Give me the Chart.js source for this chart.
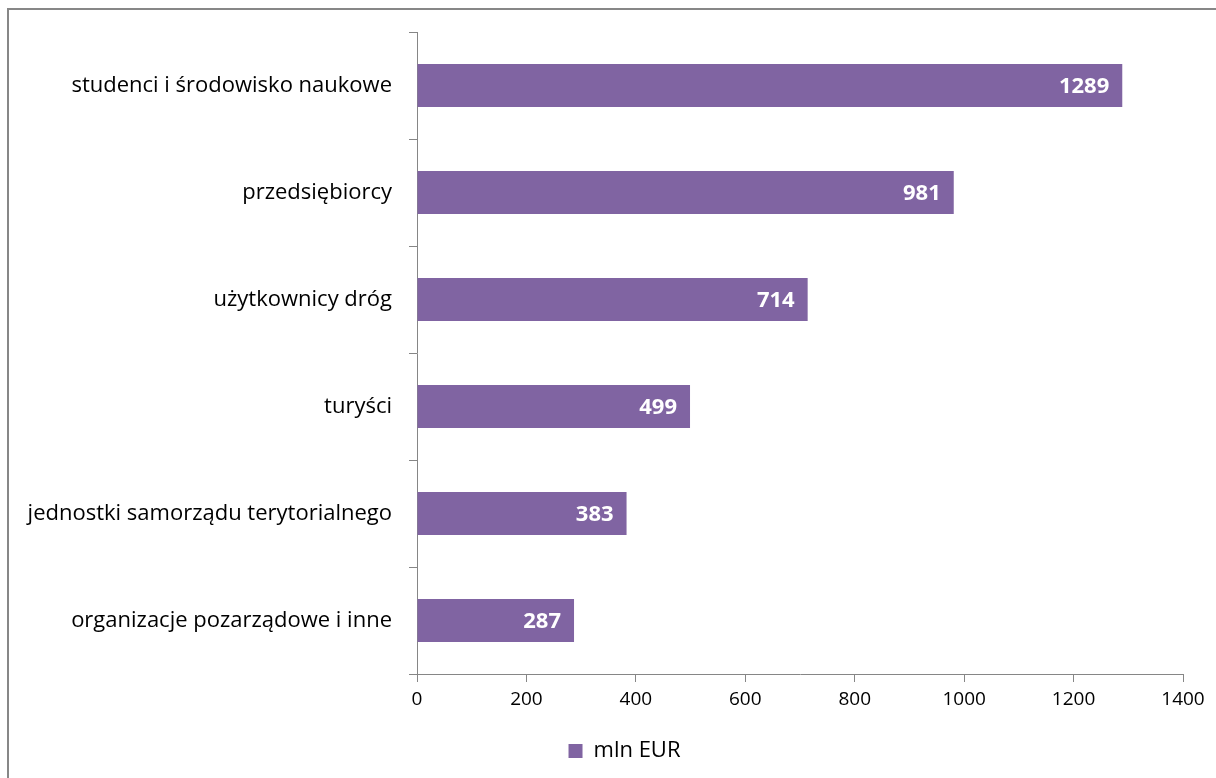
<!DOCTYPE html>
<html>
<head>
<meta charset="utf-8">
<script src="https://cdn.jsdelivr.net/npm/chart.js@4"></script>
<style>
  html, body { margin: 0; padding: 0; background: #fff; }
  #wrap { width: 1216px; height: 778px; }
</style>
</head>
<body>
<div id="wrap"><canvas id="barChart"></canvas></div>
<script>
  // * data
  const categories = [
    "studenci i środowisko naukowe",
    "przedsiębiorcy",
    "użytkownicy dróg",
    "turyści",
    "jednostki samorządu terytorialnego",
    "organizacje pozarządowe i inne",
  ];
  const values = [1289, 981, 714, 499, 383, 287];
  const seriesName = "mln EUR";
  const xTicks = [0, 200, 400, 600, 800, 1000, 1200, 1400];

  const purple = "#8064A2";
  const axisGray = "#868686";
  const fontFamily = "'Open Sans', sans-serif";

  // * outer frame
  const framePlugin = {
    id: "frame",
    beforeDraw(chart) {
      const ctx = chart.ctx;
      ctx.save();
      ctx.strokeStyle = "#878787";
      ctx.lineWidth = 2;
      ctx.beginPath();
      ctx.moveTo(8, chart.height);
      ctx.lineTo(8, 9);
      ctx.lineTo(chart.width, 9);
      ctx.stroke();
      ctx.restore();
    },
  };

  // * nudge legend so it centres like the original
  const legendShift = {
    id: "legendShift",
    afterLayout(chart) {
      if (chart.legend) chart.legend.left += 66;
    },
  };

  // * value labels, inside end of each bar
  const valueLabels = {
    id: "valueLabels",
    afterDatasetsDraw(chart) {
      const ctx = chart.ctx;
      const meta = chart.getDatasetMeta(0);
      ctx.save();
      ctx.fillStyle = "#fff";
      ctx.font = "bold 22px " + fontFamily;
      ctx.textAlign = "right";
      ctx.textBaseline = "middle";
      meta.data.forEach((bar, i) => {
        ctx.fillText(String(values[i]), bar.x - 13, bar.y + 1);
      });
      ctx.restore();
    },
  };

  const data = {
    labels: categories,
    datasets: [
      {
        label: seriesName,
        data: values,
        backgroundColor: purple,
        borderWidth: 0,
        barPercentage: 0.4,
        categoryPercentage: 1,
      },
    ],
  };

  const config = {
    type: "bar",
    data: data,
    options: {
      indexAxis: "y",
      responsive: true,
      maintainAspectRatio: false,
      animation: false,
      layout: {
        padding: { left: 0, right: 33, top: 32, bottom: 6 },
      },
      plugins: {
        legend: {
          position: "bottom",
          labels: {
            color: "#000",
            font: { family: fontFamily, size: 22 },
            boxWidth: 14,
            boxHeight: 14,
            padding: 8,
          },
        },
        tooltip: { enabled: false },
      },
      scales: {
        x: {
          min: 0,
          max: 1400,
          afterBuildTicks(scale) {
            scale.ticks = xTicks.map((v) => ({ value: v }));
          },
          afterFit(scale) {
            scale.height = 58;
          },
          grid: {
            drawOnChartArea: false,
            drawTicks: true,
            tickLength: 8,
            color: axisGray,
          },
          border: { display: true, color: axisGray, width: 1 },
          ticks: {
            color: "#000",
            font: { family: fontFamily, size: 19 },
            padding: 6,
            maxRotation: 0,
            callback: (v) => String(v),
          },
        },
        y: {
          afterFit(scale) {
            scale.width = 417;
          },
          grid: {
            offset: true,
            drawOnChartArea: false,
            drawTicks: true,
            tickLength: 8,
            color: axisGray,
          },
          border: { display: true, color: axisGray, width: 1 },
          ticks: {
            color: "#000",
            font: { family: fontFamily, size: 22 },
            padding: 17,
          },
        },
      },
    },
    plugins: [framePlugin, legendShift, valueLabels],
  };

  const ctxBar = document.getElementById("barChart").getContext("2d");
  new Chart(ctxBar, config);
</script>
</body>
</html>
